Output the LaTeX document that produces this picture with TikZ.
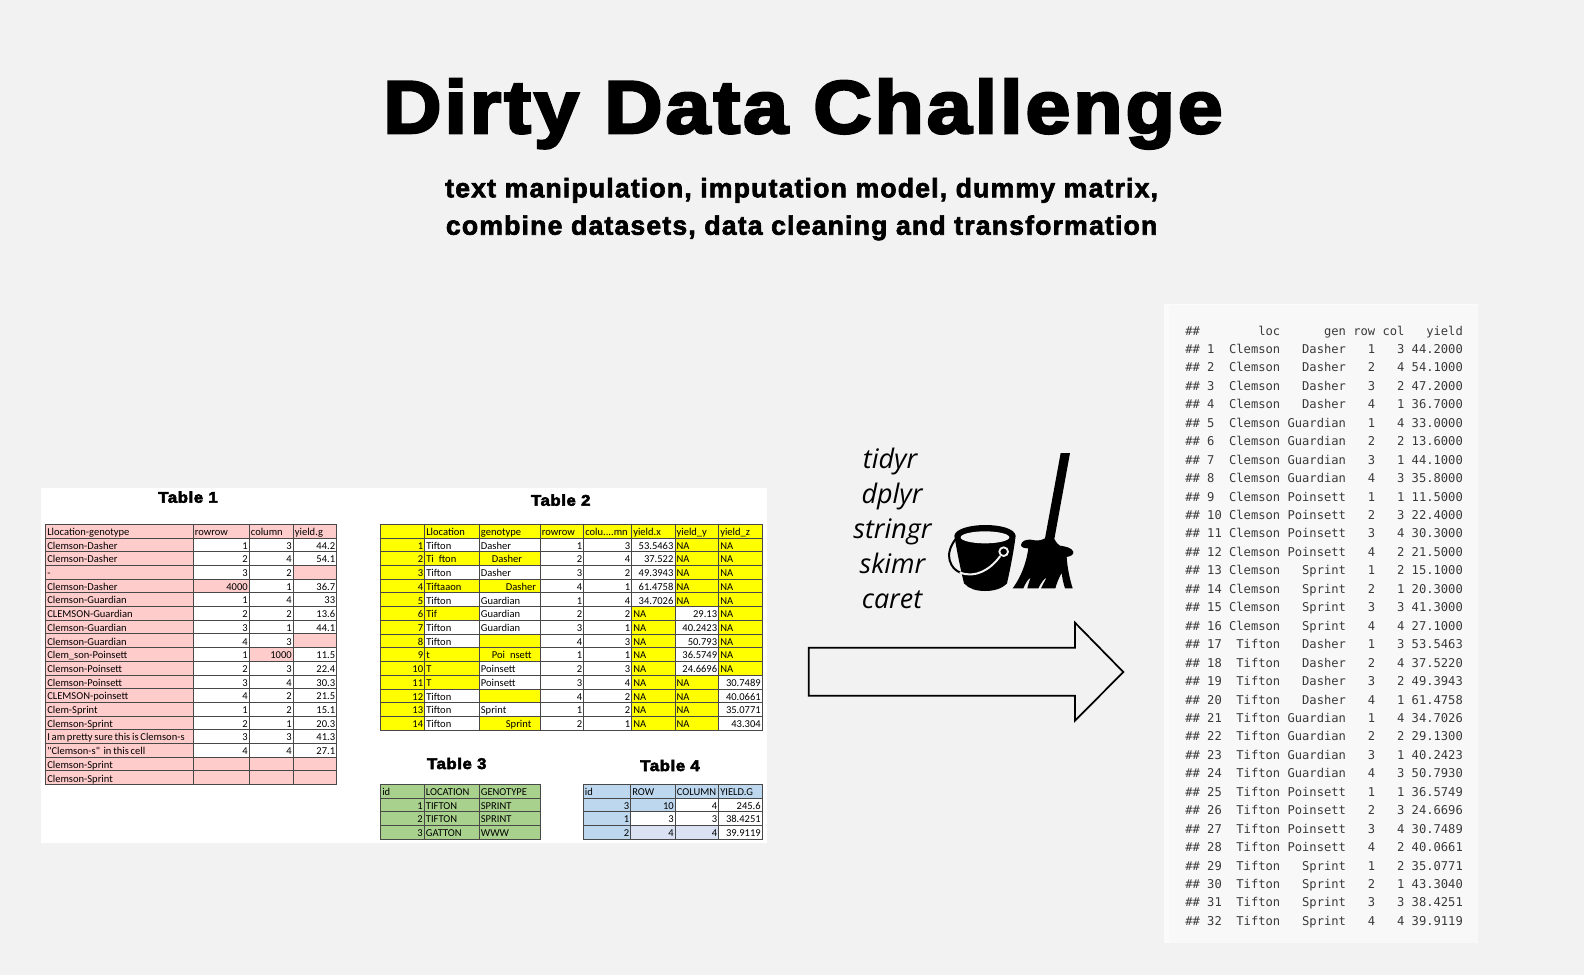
\documentclass[tikz,border=0pt]{standalone}
\usepackage{fontspec}
\setmainfont{Liberation Sans}
\newfontfamily\blk[UprightFont={* Bold},FakeBold=3.5,FakeStretch=1.08,LetterSpace=4]{Liberation Sans}
\newfontfamily\sub[UprightFont={* Bold},FakeBold=2.4,LetterSpace=4.3]{Liberation Sans}
\newfontfamily\cellf{Carlito}
\newfontfamily\pkgf{Open Sans}
\newfontfamily\monof{DejaVu Sans Mono}
\definecolor{bg}{HTML}{F2F2F2}
\definecolor{cp}{HTML}{FFCCCC}
\definecolor{cw}{HTML}{FFFFFF}
\definecolor{cy}{HTML}{FFFF00}
\definecolor{cg}{HTML}{A9D18E}
\definecolor{cb}{HTML}{BDD7EE}
\definecolor{cv}{HTML}{D9E1F2}
\definecolor{grid}{HTML}{484848}
\definecolor{rpanel}{HTML}{F8F8F8}
\definecolor{rout}{HTML}{FBFBFB}
\definecolor{rtext}{HTML}{3A3A3A}
\tikzset{
  cell/.style={draw=grid,line width=0.65pt,anchor=north west,outer sep=0pt,inner xsep=1.2pt,inner ysep=0pt,
    text height=7.0pt,text depth=0.6pt,font=\cellf\fontsize{7.9}{9}\selectfont},
  L/.style={align=left},
  R/.style={align=right},
  caption/.style={anchor=base,inner sep=0pt,font=\blk\fontsize{11.6}{13}\selectfont},
  subtitle/.style={anchor=base,inner sep=0pt,font=\sub\fontsize{20}{24}\selectfont},
  pkg/.style={anchor=base,inner sep=0pt,font=\pkgf\itshape\fontsize{20.2}{23}\selectfont},
  rline/.style={anchor=base west,inner sep=0pt,text=rtext,font=\monof\fontsize{9.1}{11}\selectfont},
}
\newcommand\hs[1]{\hspace*{\dimexpr#1\dimexpr0.75pt\relax\relax}}
\newcommand\coluhdr{colu....mn}
\newcommand\longcell{\hbox{\spaceskip 0.17em\relax I am pretty sure this is Clemson-s}}
\newcommand\quotecell{\hbox{\spaceskip 0.17em\relax "Clemson-s"\kern 0.34em in this cell}}
% name, column edges, top, row height, rows
\newcommand\maketable[5]{%
  \foreach \cells [count=\rr from 0] in {#5}{%
    \foreach \fc/\al/\tx [count=\cn] in \cells {%
      \pgfmathsetmacro\xl{{#2}[\cn-1]}%
      \pgfmathsetmacro\xr{{#2}[\cn]}%
      \pgfmathsetmacro\yt{#3+#4*\rr}%
      \pgfmathsetlengthmacro\cwid{(\xr-\xl)*0.75pt}%
      \pgfmathsetlengthmacro\twid{(\xr-\xl)*0.75pt-2.4pt}%
      \node[cell,\al,fill=\fc,text width=\twid,minimum width=\cwid,minimum height=#4*0.75pt,name=#1-\rr-\cn] at (\xl,\yt) {\tx};
    }%
  }%
}
\begin{document}
\begin{tikzpicture}[x=0.75pt,y=-0.75pt]
\useasboundingbox (0,0) rectangle (1584,975);
\fill[bg] (0,0) rectangle (1584,975);
% title
\node[anchor=base,inner sep=0pt,font=\blk\fontsize{56}{60}\selectfont] (title) at (803,133) {Dirty Data Challenge};
\node[subtitle] (sub1) at (801.6,197.3) {text manipulation, imputation model, dummy matrix,};
\node[subtitle] (sub2) at (801.6,234.7) {combine datasets, data cleaning and transformation};
% white panel
\fill[white] (41,488) rectangle (767,843);
\node[caption] (cap1) at (188,502.7) {Table 1};
\node[caption] (cap2) at (560.7,505.7) {Table 2};
\node[caption] (cap3) at (456.7,769) {Table 3};
\node[caption] (cap4) at (670,771) {Table 4};
\maketable{A}{45.7,193.3,249.3,293.3,336.7}{524.3}{13.7}{%
 {cp/L/Llocation-genotype,cp/L/rowrow,cp/L/column,cp/L/yield.g},
 {cp/L/Clemson-Dasher,cw/R/1,cw/R/3,cw/R/44.2},
 {cp/L/Clemson-Dasher,cw/R/2,cw/R/4,cw/R/54.1},
 {cp/L/-,cw/R/3,cw/R/2,cp/R/{}},
 {cp/L/Clemson-Dasher,cp/R/4000,cw/R/1,cw/R/36.7},
 {cp/L/Clemson-Guardian,cw/R/1,cw/R/4,cw/R/33},
 {cp/L/CLEMSON-Guardian,cw/R/2,cw/R/2,cw/R/13.6},
 {cp/L/Clemson-Guardian,cw/R/3,cw/R/1,cw/R/44.1},
 {cp/L/Clemson-Guardian,cw/R/4,cw/R/3,cp/R/{}},
 {cp/L/Clem\_son-Poinsett,cw/R/1,cp/R/1000,cw/R/11.5},
 {cp/L/Clemson-Poinsett,cw/R/2,cw/R/3,cw/R/22.4},
 {cp/L/Clemson-Poinsett,cw/R/3,cw/R/4,cw/R/30.3},
 {cp/L/CLEMSON-poinsett,cw/R/4,cw/R/2,cw/R/21.5},
 {cp/L/Clem-Sprint,cw/R/1,cw/R/2,cw/R/15.1},
 {cp/L/Clemson-Sprint,cw/R/2,cw/R/1,cw/R/20.3},
 {cp/L/\longcell,cw/R/3,cw/R/3,cw/R/41.3},
 {cp/L/\quotecell,cw/R/4,cw/R/4,cw/R/27.1},
 {cp/L/Clemson-Sprint,cp/R/{},cp/R/{},cp/R/{}},
 {cp/L/Clemson-Sprint,cp/R/{},cp/R/{},cp/R/{}}%
}
\maketable{B}{380.7,424.7,479.3,540.3,583.7,631.7,675,718.7,762.3}{524.3}{13.72}{%
 {cy/R/{},cy/L/Llocation,cy/L/genotype,cy/L/rowrow,cy/L/\coluhdr,cy/L/yield.x,cy/L/yield\_y,cy/L/yield\_z},
 {cy/R/1,cw/L/Tifton,cw/L/Dasher,cw/R/1,cw/R/3,cw/R/53.5463,cy/L/NA,cy/L/NA},
 {cy/R/2,cy/L/{Ti\hs{5}fton},cy/L/{\hs{11}Dasher},cw/R/2,cw/R/4,cw/R/37.522,cy/L/NA,cy/L/NA},
 {cy/R/3,cw/L/Tifton,cw/L/Dasher,cw/R/3,cw/R/2,cw/R/49.3943,cy/L/NA,cy/L/NA},
 {cy/R/4,cy/L/Tiftaaon,cy/L/{\hs{25}Dasher},cw/R/4,cw/R/1,cw/R/61.4758,cy/L/NA,cy/L/NA},
 {cy/R/5,cw/L/Tifton,cw/L/Guardian,cw/R/1,cw/R/4,cw/R/34.7026,cy/L/NA,cy/L/NA},
 {cy/R/6,cy/L/Tif,cw/L/Guardian,cw/R/2,cw/R/2,cy/L/NA,cw/R/29.13,cy/L/NA},
 {cy/R/7,cw/L/Tifton,cw/L/Guardian,cw/R/3,cw/R/1,cy/L/NA,cw/R/40.2423,cy/L/NA},
 {cy/R/8,cw/L/Tifton,cy/L/{},cw/R/4,cw/R/3,cy/L/NA,cw/R/50.793,cy/L/NA},
 {cy/R/9,cy/L/t,cy/L/{\hs{11}Poi\hs{5}nsett},cw/R/1,cw/R/1,cy/L/NA,cw/R/36.5749,cy/L/NA},
 {cy/R/10,cy/L/T,cw/L/Poinsett,cw/R/2,cw/R/3,cy/L/NA,cw/R/24.6696,cy/L/NA},
 {cy/R/11,cy/L/T,cw/L/Poinsett,cw/R/3,cw/R/4,cy/L/NA,cy/L/NA,cw/R/30.7489},
 {cy/R/12,cw/L/Tifton,cy/L/{},cw/R/4,cw/R/2,cy/L/NA,cy/L/NA,cw/R/40.0661},
 {cy/R/13,cw/L/Tifton,cw/L/Sprint,cw/R/1,cw/R/2,cy/L/NA,cy/L/NA,cw/R/35.0771},
 {cy/R/14,cw/L/Tifton,cy/L/{\hs{25}Sprint},cw/R/2,cw/R/1,cy/L/NA,cy/L/NA,cw/R/43.304}%
}
\maketable{C}{380.7,424.3,479.3,540.3}{784.3}{13.75}{%
 {cg/L/id,cg/L/LOCATION,cg/L/GENOTYPE},
 {cg/R/1,cg/L/TIFTON,cg/L/SPRINT},
 {cg/R/2,cg/L/TIFTON,cg/L/SPRINT},
 {cg/R/3,cg/L/GATTON,cg/L/WWW}%
}
\maketable{D}{583.3,630.7,675.3,718.7,762.3}{784.3}{13.75}{%
 {cb/L/id,cb/L/ROW,cb/L/COLUMN,cb/L/YIELD.G},
 {cb/R/3,cb/R/10,cw/R/4,cw/R/245.6},
 {cb/R/1,cw/R/3,cw/R/3,cw/R/38.4251},
 {cb/R/2,cv/R/4,cv/R/4,cw/R/39.9119}%
}
% package names
\node[pkg] (p1) at (890,468.5) {tidyr};
\node[pkg] (p2) at (892,503.5) {dplyr};
\node[pkg] (p3) at (892.5,538.5) {stringr};
\node[pkg] (p4) at (892.5,573.5) {skimr};
\node[pkg] (p5) at (892,608.5) {caret};
% bucket
\begin{scope}[shift={(945,515)},scale=1/3]
  \draw[black,line width=1.5pt,line cap=round] (32,72) .. controls (16,92) and (8,118) .. (14,136) .. controls (20,156) and (30,166) .. (46,173);
  \fill[black] (28,62) .. controls (32,40) and (80,30) .. (120,30) .. controls (165,30) and (208,40) .. (212,62)
     .. controls (206,110) and (196,160) .. (186,205) .. controls (170,222) and (145,228) .. (120,228)
     .. controls (95,228) and (72,222) .. (57,205) .. controls (46,160) and (36,110) .. (28,62) -- cycle;
  \fill[bg] (120,67) ellipse [x radius=73,y radius=18];
  \draw[bg,line width=1.5pt,line cap=round] (46,173) .. controls (90,190) and (135,165) .. (165,124);
  \draw[bg,line width=1.4pt] (176,110) circle [radius=13];
\end{scope}
% broom
\begin{scope}[shift={(1010,515)},scale=1/3]
  \fill[black] (152,-186) -- (180,-186) -- (133,72) .. controls (140,84) and (145,90) .. (150,92)
    .. controls (165,94) and (185,98) .. (190,110) .. controls (192,120) and (180,124) .. (170,126)
    .. controls (172,160) and (180,195) .. (188,220) -- (165,220) .. controls (160,205) and (157,190) .. (155,174)
    .. controls (148,185) and (140,205) .. (136,220) -- (93,220) .. controls (98,210) and (104,198) .. (110,188)
    .. controls (102,190) and (92,205) .. (85,220) -- (52,220) .. controls (54,210) and (58,198) .. (62,188)
    .. controls (54,192) and (46,205) .. (40,220) -- (8,220) .. controls (30,190) and (48,150) .. (55,100)
    .. controls (45,100) and (33,98) .. (33,90) .. controls (34,78) and (48,73) .. (62,74)
    .. controls (75,76) and (88,80) .. (105,70) -- cycle;
\end{scope}
% big arrow
\draw[black,line width=1.3pt,fill=bg,miter limit=10] (808.8,647.7) -- (1075,647.7) -- (1075,622.7) -- (1123.3,672) -- (1075,720.7) -- (1075,695.7) -- (808.8,695.7) -- cycle;
% R output
\fill[rout] (1164,304) rectangle (1478,943);
\fill[rpanel,rounded corners=2pt] (1169,305) rectangle (1478,943);
\foreach \ln [count=\i from 0] in {%
~~~~~~~~loc~~~~~~gen~row~col~~~yield,
~1~~Clemson~~~Dasher~~~1~~~3~44.2000,
~2~~Clemson~~~Dasher~~~2~~~4~54.1000,
~3~~Clemson~~~Dasher~~~3~~~2~47.2000,
~4~~Clemson~~~Dasher~~~4~~~1~36.7000,
~5~~Clemson~Guardian~~~1~~~4~33.0000,
~6~~Clemson~Guardian~~~2~~~2~13.6000,
~7~~Clemson~Guardian~~~3~~~1~44.1000,
~8~~Clemson~Guardian~~~4~~~3~35.8000,
~9~~Clemson~Poinsett~~~1~~~1~11.5000,
~10~Clemson~Poinsett~~~2~~~3~22.4000,
~11~Clemson~Poinsett~~~3~~~4~30.3000,
~12~Clemson~Poinsett~~~4~~~2~21.5000,
~13~Clemson~~~Sprint~~~1~~~2~15.1000,
~14~Clemson~~~Sprint~~~2~~~1~20.3000,
~15~Clemson~~~Sprint~~~3~~~3~41.3000,
~16~Clemson~~~Sprint~~~4~~~4~27.1000,
~17~~Tifton~~~Dasher~~~1~~~3~53.5463,
~18~~Tifton~~~Dasher~~~2~~~4~37.5220,
~19~~Tifton~~~Dasher~~~3~~~2~49.3943,
~20~~Tifton~~~Dasher~~~4~~~1~61.4758,
~21~~Tifton~Guardian~~~1~~~4~34.7026,
~22~~Tifton~Guardian~~~2~~~2~29.1300,
~23~~Tifton~Guardian~~~3~~~1~40.2423,
~24~~Tifton~Guardian~~~4~~~3~50.7930,
~25~~Tifton~Poinsett~~~1~~~1~36.5749,
~26~~Tifton~Poinsett~~~2~~~3~24.6696,
~27~~Tifton~Poinsett~~~3~~~4~30.7489,
~28~~Tifton~Poinsett~~~4~~~2~40.0661,
~29~~Tifton~~~Sprint~~~1~~~2~35.0771,
~30~~Tifton~~~Sprint~~~2~~~1~43.3040,
~31~~Tifton~~~Sprint~~~3~~~3~38.4251,
~32~~Tifton~~~Sprint~~~4~~~4~39.9119%
}{
  \pgfmathsetmacro\yy{335+18.45*\i}
  \node[rline] (r\i) at (1185,\yy) {\#\#\ln};
}
\end{tikzpicture}
\end{document}
